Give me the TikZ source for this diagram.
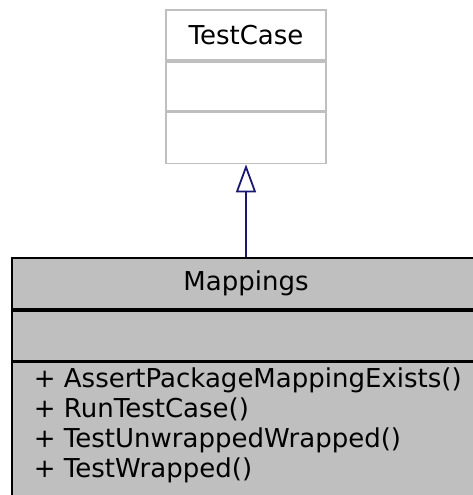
\documentclass[tikz,border=0pt]{standalone}
\usepackage{fontspec}
\setmainfont{DejaVu Sans}
\usetikzlibrary{arrows.meta}
\definecolor{boxgray}{HTML}{BFBFBF}
\definecolor{edgeblue}{HTML}{191970}
\begin{document}
\begin{tikzpicture}[x=1pt,y=1pt,line width=1.8pt,
    font=\fontsize{26}{30}\selectfont,
    base/.style={draw=boxgray,fill=white,inner sep=0pt,minimum width=160pt},
    derived/.style={draw=black,fill=boxgray,inner sep=0pt,minimum width=468pt}]
    \useasboundingbox (0,0) rectangle (472,-495);

    % base class
    \node (tctitle) [base, anchor=north, minimum height=50pt] at (246,-9) {TestCase};
    \node (tcattr) [base, anchor=north, minimum height=49pt] at (tctitle.south) {};
    \node (tcops) [base, anchor=north, minimum height=51pt] at (tcattr.south) {};

    % derived class
    \node (mtitle) [derived, anchor=north, minimum height=51pt] at (246,-257) {Mappings};
    \node (mattr) [derived, anchor=north, minimum height=50pt] at (mtitle.south) {};
    \node (mops) [derived, anchor=north, minimum height=160pt] at (mattr.south) {};
    \node (mopstext) [anchor=north west, inner sep=0pt, align=left] at (33,-367)
        {+ AssertPackageMappingExists()\\+ RunTestCase()\\+ TestUnwrappedWrapped()\\+ TestWrapped()};

    \draw[edgeblue, -{Triangle[open,length=28pt,width=20pt]}] (mtitle.north) -- (tcops.south);
\end{tikzpicture}
\end{document}
